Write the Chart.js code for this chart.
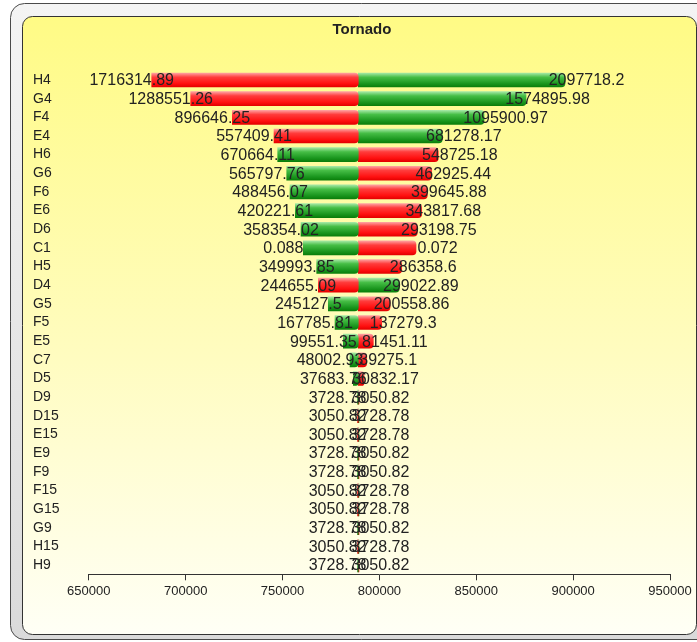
<!DOCTYPE html>
<html>
<head>
<meta charset="utf-8">
<script src="https://cdn.jsdelivr.net/npm/chart.js@4.4.1/dist/chart.umd.min.js"></script>
<style>
  html, body { margin: 0; padding: 0; background: #fff; }
  #wrap { width: 697px; height: 642px; }
</style>
</head>
<body>
<div id="wrap"><canvas id="tornado" width="697" height="642"></canvas></div>
<script>
'use strict';

// rows, top to bottom
const categories = ['H4', 'G4', 'F4', 'E4', 'H6', 'G6', 'F6', 'E6', 'D6', 'C1', 'H5', 'D4', 'G5', 'F5',
  'E5', 'C7', 'D5', 'D9', 'D15', 'E15', 'E9', 'F9', 'F15', 'G15', 'G9', 'H15', 'H9'];

// outputs printed left / right of each bar
const lowOutputs = [1716314.89, 1288551.26, 896646.25, 557409.41, 670664.11, 565797.76, 488456.07,
  420221.61, 358354.02, 0.088, 349993.85, 244655.09, 245127.5, 167785.81, 99551.35, 48002.93, 37683.76,
  3728.78, 3050.82, 3050.82, 3728.78, 3728.78, 3050.82, 3050.82, 3728.78, 3050.82, 3728.78];
const highOutputs = [2097718.2, 1574895.98, 1095900.97, 681278.17, 548725.18, 462925.44, 399645.88,
  343817.68, 293198.75, 0.072, 286358.6, 299022.89, 200558.86, 137279.3, 81451.11, 39275.1, 30832.17,
  3050.82, 3728.78, 3728.78, 3050.82, 3050.82, 3728.78, 3728.78, 3050.82, 3728.78, 3050.82];

// bar ends on the axis
const baseValue = 789100;
const leftEnds = [682470, 702600, 724080, 745600, 747510, 752160, 753860, 756600, 759540, 760720,
  767640, 768470, 773630, 777090, 781370, 784830, 786540,
  788750, 788750, 788750, 788750, 788750, 788750, 788750, 788750, 788750, 788750];
const rightEnds = [895810, 875680, 854000, 832480, 830410, 827000, 824730, 821840, 819570, 818900,
  811520, 810280, 805480, 801200, 796860, 793450, 792060,
  789450, 789450, 789450, 789450, 789450, 789450, 789450, 789450, 789450, 789450];

const xTicks = [650000, 700000, 750000, 800000, 850000, 900000, 950000];

const fontFamily = 'Arial, "Liberation Sans", sans-serif';

// red for the smaller output, green for the larger one
function isRed(side, i) {
  return side === 'low' ? lowOutputs[i] < highOutputs[i] : lowOutputs[i] >= highOutputs[i];
}

function barFill(context, side) {
  const i = context.dataIndex;
  if (i === undefined) return '#ff2020';
  const red = isRed(side, i);
  const chart = context.chart;
  const y = chart.scales.y;
  const yc = y ? y.getPixelForValue(i) : NaN;
  if (!isFinite(yc)) return red ? '#ff2020' : '#20a020';
  const g = chart.ctx.createLinearGradient(0, yc - 7, 0, yc + 7);
  if (red) {
    g.addColorStop(0, '#ffa0a0');
    g.addColorStop(0.3, '#ff3c3c');
    g.addColorStop(0.75, '#ff1010');
    g.addColorStop(1, '#e40000');
  } else {
    g.addColorStop(0, '#a4e8a4');
    g.addColorStop(0.3, '#46be46');
    g.addColorStop(0.75, '#1a961e');
    g.addColorStop(1, '#0a7e0a');
  }
  return g;
}

function roundRect(ctx, x, y, w, h, r) {
  ctx.beginPath();
  ctx.moveTo(x + r, y);
  ctx.arcTo(x + w, y, x + w, y + h, r);
  ctx.arcTo(x + w, y + h, x, y + h, r);
  ctx.arcTo(x, y + h, x, y, r);
  ctx.arcTo(x, y, x + w, y, r);
  ctx.closePath();
}

// grey frame + yellow panel + title
const panelPlugin = {
  id: 'panel',
  beforeDraw(chart) {
    const ctx = chart.ctx;
    ctx.save();
    ctx.fillStyle = '#fff';
    ctx.fillRect(0, 0, chart.width, chart.height);

    let g = ctx.createLinearGradient(0, 3, 0, 640);
    g.addColorStop(0, '#f4f4f4');
    g.addColorStop(1, '#dadada');
    roundRect(ctx, 10.5, 3.5, 705, 636, 14);
    ctx.fillStyle = g;
    ctx.fill();
    ctx.strokeStyle = '#4a4a4a';
    ctx.lineWidth = 1;
    ctx.stroke();

    g = ctx.createLinearGradient(0, 17, 0, 635);
    g.addColorStop(0, '#fffb85');
    g.addColorStop(0.55, '#fffcc0');
    g.addColorStop(1, '#fffff6');
    roundRect(ctx, 22.5, 16.5, 674, 618, 10);
    ctx.fillStyle = g;
    ctx.fill();
    ctx.strokeStyle = '#333';
    ctx.stroke();

    ctx.fillStyle = '#222';
    ctx.font = 'bold 15px ' + fontFamily;
    ctx.textAlign = 'center';
    ctx.textBaseline = 'middle';
    ctx.fillText('Tornado', 362, 30);
    ctx.restore();
  }
};

// outputs written at both bar ends
const valueLabels = {
  id: 'valueLabels',
  afterDatasetsDraw(chart) {
    const ctx = chart.ctx;
    const x = chart.scales.x, y = chart.scales.y;
    ctx.save();
    ctx.font = '16px ' + fontFamily;
    ctx.fillStyle = '#222';
    ctx.textAlign = 'center';
    ctx.textBaseline = 'middle';
    categories.forEach(function (c, i) {
      const yc = y.getPixelForValue(i) + 1;
      ctx.fillText(String(lowOutputs[i]), x.getPixelForValue(leftEnds[i]) - 20, yc);
      ctx.fillText(String(highOutputs[i]), x.getPixelForValue(rightEnds[i]) + 21.5, yc);
    });
    ctx.restore();
  }
};

const tornadoEl = document.getElementById('tornado');
const tornadoChart = new Chart(tornadoEl, {
  type: 'bar',
  data: {
    labels: categories,
    datasets: [
      {
        label: 'low',
        data: categories.map(function (c, i) { return [baseValue, leftEnds[i]]; }),
        backgroundColor: function (context) { return barFill(context, 'low'); },
        grouped: false,
        barThickness: 14,
        borderSkipped: 'start',
        borderRadius: 4
      },
      {
        label: 'high',
        data: categories.map(function (c, i) { return [baseValue, rightEnds[i]]; }),
        backgroundColor: function (context) { return barFill(context, 'high'); },
        grouped: false,
        barThickness: 14,
        borderSkipped: 'start',
        borderRadius: 4
      }
    ]
  },
  options: {
    indexAxis: 'y',
    responsive: false,
    animation: false,
    layout: {
      padding: { left: 33, right: 27, top: 70.7, bottom: 37.7 }
    },
    plugins: {
      legend: { display: false },
      tooltip: { enabled: false },
      title: { display: false }
    },
    scales: {
      x: {
        min: 650000,
        max: 950000,
        afterBuildTicks: function (scale) {
          scale.ticks = xTicks.map(function (v) { return { value: v }; });
        },
        afterFit: function (scale) { scale.height = 30; },
        grid: { drawOnChartArea: false, drawTicks: true, tickLength: 6, color: '#333' },
        border: { color: '#333' },
        ticks: {
          color: '#222',
          padding: 3,
          maxRotation: 0,
          autoSkip: false,
          font: { family: fontFamily, size: 13 },
          callback: function (value) { return String(value); }
        }
      },
      y: {
        afterFit: function (scale) { scale.width = 55.8; },
        grid: { display: false },
        border: { display: false },
        ticks: {
          crossAlign: 'far',
          padding: 0,
          autoSkip: false,
          color: '#222',
          font: { family: fontFamily, size: 14 }
        }
      }
    }
  },
  plugins: [panelPlugin, valueLabels]
});
</script>
</body>
</html>
